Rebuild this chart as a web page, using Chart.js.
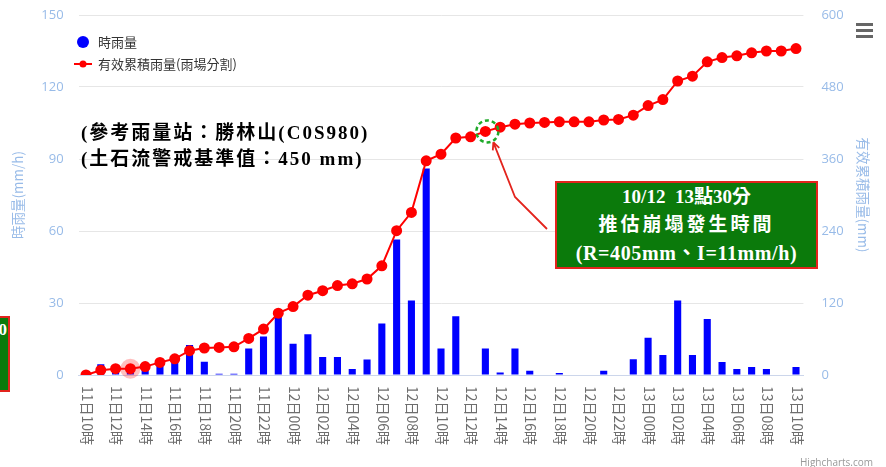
<!DOCTYPE html>
<html lang="zh-Hant">
<head>
    <meta charset="UTF-8">
    <title>時雨量 / 有效累積雨量</title>
    <script src="https://cdn.jsdelivr.net/npm/chart.js@4.4.1/dist/chart.umd.min.js"></script>
    <style>
        body { margin: 0; background: #fff; }
        #wrap { position: relative; width: 886px; height: 467px; overflow: hidden; }
        #chart { position: absolute; left: 0; top: 0; }
        .note {
            position: absolute;
            font-family: "Liberation Serif", "Noto Sans CJK TC", serif;
            font-weight: bold;
            color: #000;
            font-size: 19px;
            letter-spacing: 2px;
            white-space: nowrap;
        }
        #box {
            position: absolute;
            left: 555px; top: 181px; width: 259px; height: 84px;
            background: #0b7a0b;
            border: 2px solid #e3241d;
            color: #fff;
            text-align: center;
            font-family: "Liberation Serif", "Noto Sans CJK TC", serif;
            font-weight: bold;
            font-size: 19px;
            line-height: 28px;
        }
        #box .l2 { letter-spacing: 3px; }
        #box .l3 { letter-spacing: 0.6px; font-size: 20px; }
        #cut {
            position: absolute; left: -20px; top: 316px; width: 26px; height: 72px;
            background: #0b7a0b; border: 2px solid #e3241d; color: #fff;
            font: bold 17px "Liberation Serif", serif; text-align: right;
        }
        #menu { position: absolute; left: 856px; top: 23px; width: 17px; }
        #menu div { height: 3px; background: #666; margin-bottom: 3px; }
        #credit {
            position: absolute; left: 800px; top: 455px;
            font: 10px "Open Sans", sans-serif; color: #999;
        }
    </style>
</head>
<body>
<div id="wrap">
    <canvas id="chart" width="886" height="467"></canvas>
    <div id="cut"><span style="position:relative;top:2px;left:-1px">0</span></div>
    <div class="note" style="left:81px; top:117px;">(參考雨量站：勝林山(C0S980)</div>
    <div class="note" style="left:81px; top:143px;">(土石流警戒基準值：450 mm)</div>
    <div id="box">
        <div>10/12&nbsp; 13點30分</div>
        <div class="l2">推估崩塌發生時間</div>
        <div class="l3">(R=405mm、I=11mm/h)</div>
    </div>
    <div id="menu"><div></div><div></div><div></div></div>
    <div id="credit">Highcharts.com</div>
</div>
<script>
    // categories (hourly)
    const hours = [
        '11日10時','11日11時','11日12時','11日13時','11日14時','11日15時','11日16時','11日17時',
        '11日18時','11日19時','11日20時','11日21時','11日22時','11日23時',
        '12日00時','12日01時','12日02時','12日03時','12日04時','12日05時','12日06時','12日07時',
        '12日08時','12日09時','12日10時','12日11時','12日12時','12日13時','12日14時','12日15時',
        '12日16時','12日17時','12日18時','12日19時','12日20時','12日21時','12日22時','12日23時',
        '13日00時','13日01時','13日02時','13日03時','13日04時','13日05時','13日06時','13日07時',
        '13日08時','13日09時','13日10時'
    ];

    // 時雨量 (mm/h)
    const rain = [
        0, 4.5, 3.5, 2, 3.5, 5, 6.5, 12.5, 5.5, 0.5, 0.5, 11, 16, 24.5,
        13, 17, 7.5, 7.5, 2.5, 6.5, 21.5, 56.5, 31, 86, 11, 24.5, 0, 11, 1, 11,
        1.8, 0, 0.8, 0, 0, 1.8, 0, 6.6,
        15.5, 8.3, 31, 8.3, 23.3, 5.4, 2.5, 3.3, 2.5, 0, 3.3
    ];

    // 有效累積雨量 (mm)
    const accum = [
        0, 8, 10.5, 10.5, 14, 21, 27, 40.5, 45, 46, 47, 61, 76.5, 103,
        114, 133, 140.5, 149, 152, 160, 182, 240.5, 271, 357, 368, 395, 397, 406, 413, 418,
        420, 421, 422, 422, 422, 425, 426, 433,
        449, 459, 490, 498, 522, 529, 532, 537, 540, 540, 544
    ];

    const leftTicks = [0, 30, 60, 90, 120, 150];
    const rightTicks = [0, 120, 240, 360, 480, 600];

    const hoverIndex = 3;     // hover halo
    const eventIndex = 27;    // 10/12 13:30

    const axisBlue = '#98bbe8';

    // draw legend, x labels and the marks around points
    const extras = {
        id: 'extras',
        afterDraw(chart) {
            const ctx = chart.ctx;
            const xs = chart.scales.x;
            const line = chart.getDatasetMeta(0).data;

            // x labels, reading downwards
            ctx.save();
            ctx.fillStyle = '#6e6e6e';
            ctx.font = '14px "Noto Sans CJK TC"';
            ctx.textAlign = 'left';
            ctx.textBaseline = 'middle';
            for (let i = 0; i < hours.length; i += 2) {
                ctx.save();
                ctx.translate(xs.getPixelForValue(i) + 1, chart.chartArea.bottom + 11);
                ctx.rotate(Math.PI / 2);
                ctx.fillText(hours[i], 0, 0);
                ctx.restore();
            }
            ctx.restore();

            // hover halo
            const h = line[hoverIndex];
            ctx.save();
            ctx.fillStyle = 'rgba(255,0,0,0.25)';
            ctx.beginPath();
            ctx.arc(h.x, h.y, 10, 0, Math.PI * 2);
            ctx.fill();
            ctx.restore();

            // dashed green circle + arrow
            const p = line[eventIndex];
            ctx.save();
            ctx.strokeStyle = '#1faa2a';
            ctx.lineWidth = 2.5;
            ctx.setLineDash([4, 3]);
            ctx.beginPath();
            ctx.arc(p.x + 2, p.y, 11, 0, Math.PI * 2);
            ctx.stroke();
            ctx.setLineDash([]);
            ctx.strokeStyle = '#e3241d';
            ctx.lineWidth = 1.8;
            const tipX = p.x + 8, tipY = p.y + 11;
            ctx.beginPath();
            ctx.moveTo(547, 229);
            ctx.lineTo(515, 197);
            ctx.lineTo(tipX, tipY);
            ctx.stroke();
            const ang = Math.atan2(tipY - 197, tipX - 515);
            ctx.beginPath();
            ctx.moveTo(tipX, tipY);
            ctx.lineTo(tipX - 8 * Math.cos(ang - 0.45), tipY - 8 * Math.sin(ang - 0.45));
            ctx.moveTo(tipX, tipY);
            ctx.lineTo(tipX - 8 * Math.cos(ang + 0.45), tipY - 8 * Math.sin(ang + 0.45));
            ctx.stroke();
            ctx.restore();

            // legend
            ctx.save();
            ctx.font = '13px "Noto Sans CJK TC"';
            ctx.textBaseline = 'middle';
            ctx.fillStyle = '#0000ff';
            ctx.beginPath();
            ctx.arc(83, 42, 6, 0, Math.PI * 2);
            ctx.fill();
            ctx.fillStyle = '#333';
            ctx.fillText(chart.data.datasets[1].label, 98, 42);
            ctx.strokeStyle = '#ff0000';
            ctx.lineWidth = 2;
            ctx.beginPath();
            ctx.moveTo(74, 64);
            ctx.lineTo(92, 64);
            ctx.stroke();
            ctx.fillStyle = '#ff0000';
            ctx.beginPath();
            ctx.arc(83, 64, 3.5, 0, Math.PI * 2);
            ctx.fill();
            ctx.fillStyle = '#333';
            ctx.fillText(chart.data.datasets[0].label, 98, 64);
            ctx.restore();
        }
    };

    function fixY(width) {
        return s => {
            s.width = width;
            s.paddingTop = 0;
            s.paddingBottom = 0;
        };
    }

    new Chart(document.getElementById('chart'), {
        type: 'bar',
        data: {
            labels: hours,
            datasets: [{
                type: 'line',
                label: '有效累積雨量(雨場分割)',
                data: accum,
                yAxisID: 'y1',
                borderColor: '#ff0000',
                backgroundColor: '#ff0000',
                borderWidth: 2,
                pointRadius: 4.5,
                tension: 0,
                order: 0
            }, {
                type: 'bar',
                label: '時雨量',
                data: rain,
                yAxisID: 'y',
                backgroundColor: '#0000ff',
                barPercentage: 0.48,
                categoryPercentage: 1,
                order: 1
            }]
        },
        options: {
            responsive: false,
            animation: false,
            devicePixelRatio: 1,
            layout: { padding: { top: 15, left: 0, right: 0, bottom: 0 } },
            plugins: { legend: { display: false }, tooltip: { enabled: false } },
            scales: {
                x: {
                    grid: { display: false },
                    border: { color: '#ccd6eb', width: 1 },
                    ticks: { display: false },
                    afterFit(s) { s.height = 92; }
                },
                y: {
                    position: 'left',
                    min: 0, max: 150,
                    afterBuildTicks(s) { s.ticks = leftTicks.map(v => ({ value: v })); },
                    grid: { color: '#e6e6e6', drawTicks: false },
                    border: { display: false },
                    ticks: { color: axisBlue, font: { size: 13, family: 'Open Sans' }, padding: 15 },
                    title: {
                        display: true, text: '時雨量(mm/h)', color: axisBlue,
                        font: { size: 13.5, family: 'Noto Sans CJK TC' }, padding: { top: 10, bottom: 0 }
                    },
                    afterFit: fixY(78.6)
                },
                y1: {
                    position: 'right',
                    min: 0, max: 600,
                    afterBuildTicks(s) { s.ticks = rightTicks.map(v => ({ value: v })); },
                    grid: { drawOnChartArea: false, drawTicks: false },
                    border: { display: false },
                    ticks: { color: axisBlue, font: { size: 13, family: 'Open Sans' }, padding: 18 },
                    title: {
                        display: true, text: '有效累積雨量(mm)', color: axisBlue,
                        font: { size: 13.5, family: 'Noto Sans CJK TC' }, padding: { top: 15, bottom: 0 }
                    },
                    afterFit: fixY(82.6)
                }
            }
        },
        plugins: [extras]
    });
</script>
</body>
</html>
